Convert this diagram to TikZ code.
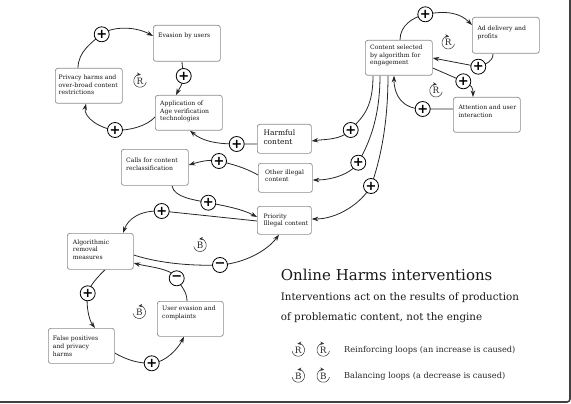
\documentclass[tikz,border=0pt]{standalone}
\usepackage{fontspec}
\setmainfont{DejaVu Serif}
\newfontfamily\signfont{DejaVu Sans}
\usetikzlibrary{arrows.meta,calc,backgrounds}
\tikzset{
 box/.style={draw=black!45, line width=0.7pt, rounded corners=2.5pt, fill=white, inner sep=0pt, anchor=north west},
 txt/.style={anchor=north west, inner sep=0pt, align=left, text=black!92, font=\fontsize{6.1}{7.6}\selectfont},
 sgn/.style={circle, draw=black, line width=0.8pt, fill=white, minimum size=15pt, inner sep=0pt, font=\signfont\bfseries\fontsize{13}{13}\selectfont},
 link/.style={draw=black!85, line width=0.8pt},
 arr/.style={link, -{Stealth[length=6.5pt,width=4.5pt]}},
 looparc/.style={draw=black!80, line width=0.5pt, -{Stealth[length=4pt,width=3.4pt]}},
 looptxt/.style={inner sep=0pt, font=\fontsize{8.8}{8.8}\selectfont, text=black!85},
 loopcw/.pic={\draw[looparc] (-10:6.3) arc[start angle=-10,end angle=-278,radius=6.3]; \node[looptxt] (-t) at (0,0) {#1};},
 loopccw/.pic={\draw[looparc] (190:6.3) arc[start angle=190,end angle=458,radius=6.3]; \node[looptxt] (-t) at (0,0) {#1};},
}
\begin{document}
\begin{tikzpicture}[x=1pt,y=-1pt]
\useasboundingbox (0,0) rectangle (571,404);
% frame edge
\draw[line width=1.6pt, draw=black!75, rounded corners=3pt] (570,-5) -- (570,402) -- (-5,402);

% boxes
\node[box, minimum width=67pt, minimum height=36pt] (ev) at (153,25) {};
\node[box, minimum width=67pt, minimum height=35pt] (pr) at (55,68) {};
\node[box, minimum width=67pt, minimum height=35pt] (ap) at (155,95) {};
\node[box, minimum width=54pt, minimum height=29pt] (hc) at (257,124) {};
\node[box, minimum width=54pt, minimum height=29pt] (ot) at (258,163) {};
\node[box, minimum width=54pt, minimum height=28pt] (pi) at (257,206) {};
\node[box, minimum width=67pt, minimum height=35pt] (cs) at (365,40) {};
\node[box, minimum width=67pt, minimum height=36pt] (ad) at (472,17) {};
\node[box, minimum width=67pt, minimum height=35pt] (at) at (453,97) {};
\node[box, minimum width=67pt, minimum height=36pt] (ca) at (121,149) {};
\node[box, minimum width=66pt, minimum height=36pt] (al) at (67,233) {};
\node[box, minimum width=66pt, minimum height=35pt] (ue) at (157,301) {};
\node[box, minimum width=66pt, minimum height=35pt] (fp) at (48,328) {};

% box texts
\node[txt] (evt) at (158,33) {Evasion by users};
\node[txt] (prt) at (58.5,74.7) {Privacy harms and\\over-broad content\\restrictions};
\node[txt] (apt) at (160,100.7) {Application of\\Age verification\\technologies};
\node[txt, font=\fontsize{7.5}{9.4}\selectfont] (hct) at (263.3,129.5) {Harmful\\content};
\node[txt] (ott) at (265,169.3) {Other illegal\\content};
\node[txt] (pit) at (263.3,213.7) {Priority\\Illegal content};
\node[txt] (cst) at (370,44.7) {Content selected\\by algorithm for\\engagement};
\node[txt] (adt) at (477.3,25.7) {Ad delivery and\\profits};
\node[txt] (att) at (458.3,104.7) {Attention and user\\interaction};
\node[txt] (cat) at (126,157.7) {Calls for content\\reclassification};
\node[txt] (alt) at (72.7,239.3) {Algorithmic\\removal\\measures};
\node[txt] (uet) at (162,306) {User evasion and\\complaints};
\node[txt] (fpt) at (52.7,336) {False positives\\and privacy\\harms};

% signs
\node[sgn] (s1) at (101.7,34.3) {+};
\node[sgn] (s2) at (183.7,76) {+};
\node[sgn] (s3) at (115,130) {+};
\node[sgn] (s4) at (236.7,144) {+};
\node[sgn] (s5) at (425.3,14.3) {+};
\node[sgn] (s6) at (478.3,66.7) {+};
\node[sgn] (s7) at (463.3,81.3) {+};
\node[sgn] (s8) at (422.7,109) {+};
\node[sgn] (s9) at (350.7,130) {+};
\node[sgn] (s10) at (358.3,162.7) {+};
\node[sgn] (s11) at (371,186) {+};
\node[sgn] (s12) at (219,161) {+};
\node[sgn] (s13) at (208.3,202.7) {+};
\node[sgn] (s14) at (161.7,211) {+};
\node[sgn] (s15) at (220,265) {\char"2212};
\node[sgn] (s16) at (176.7,278.3) {\char"2212};
\node[sgn] (s17) at (87.7,293.3) {+};
\node[sgn] (s18) at (151.7,363.3) {+};

% connectors
\begin{scope}[on background layer]
\draw[arr] ($(pr.north west)+(23,0)$) .. controls +(0,-16) and +(-10,8) .. (s1.center) .. controls +(10,-8) and +(-18,-10) .. ($(ev.north west)+(0,11)$);
\draw[arr] ($(ev.south west)+(29,0)$) .. controls +(0,5) and +(0,-5) .. (s2.center) .. controls +(0,7) and +(3,-6) .. ($(ap.north west)+(21,0)$);
\draw[arr] ($(ap.north west)+(0,22)$) .. controls +(-8,9) and +(14,1) .. (s3.center) .. controls +(-14,-1) and +(-3,14) .. ($(pr.south west)+(31,0)$);
\draw[arr] ($(hc.north west)+(0,20)$) -- (s4.center) .. controls +(-22,0) and +(12,10) .. ($(ap.south west)+(35,0)$);
\draw[arr] ($(cs.north west)+(35,0)$) .. controls +(0,-15) and +(-12,3) .. (s5.center) .. controls +(22,-4) and +(-12,-12) .. ($(ad.north west)+(0,8)$);
\draw[arr] ($(ad.south west)+(21,0)$) .. controls +(0,8) and +(8,-3) .. (s6.center) -- ($(cs.north east)+(0,18)$);
\draw[arr] ($(cs.north east)+(0,28)$) -- (s7.center) .. controls +(9,4) and +(0,-9) .. ($(at.north west)+(20,0)$);
\draw[arr] ($(at.north west)+(0,12)$) -- (s8.center) .. controls +(-20,0) and +(0,20) .. ($(cs.south west)+(29,0)$);
\draw[arr] ($(cs.south west)+(8,0)$) .. controls +(0,35) and +(10,-12) .. (s9.center) .. controls +(-10,10) and +(15,-2) .. ($(hc.north east)+(0,17)$);
\draw[arr] ($(cs.south west)+(15,0)$) .. controls +(0,50) and +(6,-12) .. (s10.center) .. controls +(-8,12) and +(18,0) .. ($(ot.north east)+(0,17)$);
\draw[arr] ($(cs.south west)+(23,0)$) .. controls +(0,60) and +(5,-14) .. (s11.center) .. controls +(-10,18) and +(25,0) .. ($(pi.north east)+(0,13)$);
\draw[arr] ($(ot.north west)+(0,12)$) .. controls +(-14,-8) and +(12,3) .. (s12.center) .. controls +(-10,-2) and +(10,-3) .. ($(ca.north east)+(0,16)$);
\draw[arr] ($(ca.south west)+(51,0)$) .. controls +(2,12) and +(-14,-3) .. (s13.center) .. controls +(16,3) and +(-15,-8) .. ($(pi.north west)+(0,11)$);
\draw[arr] ($(pi.north west)+(0,15)$) -- (s14.center) .. controls +(-22,-1) and +(5,-14) .. ($(al.north west)+(56,0)$);
\draw[arr] ($(al.north east)+(0,22)$) .. controls +(28,9) and +(-25,1) .. (s15.center) .. controls +(25,-2) and +(-12,16) .. ($(pi.south west)+(22,0)$);
\draw[arr] ($(ue.north west)+(30,0)$) .. controls +(0,-10) and +(4,8) .. (s16.center) .. controls +(-5,-10) and +(15,4) .. ($(al.north east)+(0,30)$);
\draw[arr] ($(al.south west)+(38,0)$) .. controls +(-8,8) and +(3,-9) .. (s17.center) .. controls +(-2,12) and +(-6,-8) .. ($(fp.north west)+(47,0)$);
\draw[arr] ($(fp.north east)+(0,25)$) .. controls +(14,8) and +(-12,0) .. (s18.center) .. controls +(14,-1) and +(-6,12) .. ($(ue.south west)+(27,0)$);
\end{scope}

% loop markers
\pic[yscale=-1] (lp1) at (140,81) {loopcw=R};
\pic[yscale=-1] (lp2) at (448.3,42.7) {loopcw=R};
\pic[yscale=-1] (lp3) at (436,90.7) {loopcw=R};
\pic[yscale=-1] (lp4) at (200,245.3) {loopccw=B};
\pic[yscale=-1] (lp5) at (139.3,312.3) {loopccw=B};

% legend
\node[anchor=base west, inner sep=0pt, text=black!90, font=\fontsize{15}{15}\selectfont] (title) at (280.7,280.7) {Online Harms interventions};
\node[anchor=base west, inner sep=0pt, text=black!90, font=\fontsize{10.3}{10.3}\selectfont] (sub1) at (280.7,300.7) {Interventions act on the results of production};
\node[anchor=base west, inner sep=0pt, text=black!90, font=\fontsize{10.3}{10.3}\selectfont] (sub2) at (280.7,320.5) {of problematic content, not the engine};
\pic[yscale=-1] (lg1) at (298.3,350) {loopccw=R};
\pic[yscale=-1] (lg2) at (323.3,350) {loopcw=R};
\pic[yscale=-1] (lg3) at (298.3,376) {loopccw=B};
\pic[yscale=-1] (lg4) at (323.3,376) {loopcw=B};
\node[anchor=west, inner sep=0pt, text=black!85, font=\fontsize{8.2}{8.2}\selectfont] (leg1) at (344,350) {Reinforcing loops (an increase is caused)};
\node[anchor=west, inner sep=0pt, text=black!85, font=\fontsize{8.2}{8.2}\selectfont] (leg2) at (344,376) {Balancing loops (a decrease is caused)};
\end{tikzpicture}
\end{document}
